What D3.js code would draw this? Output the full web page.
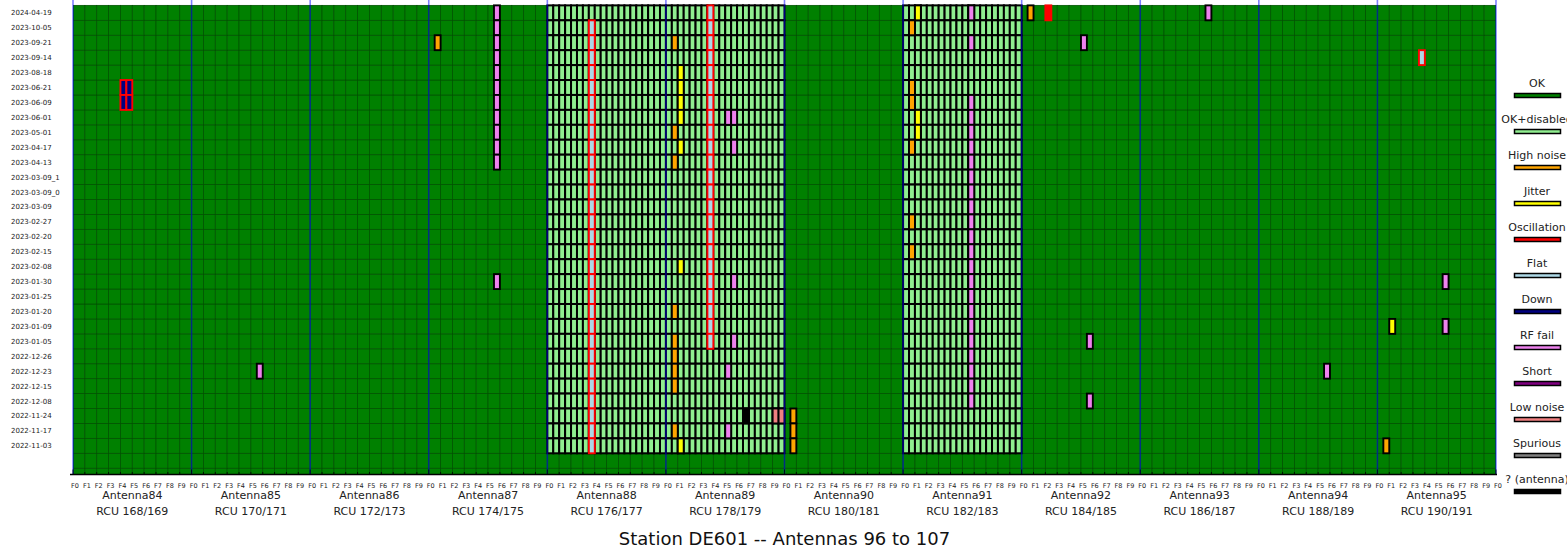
<!DOCTYPE html>
<html><head><meta charset="utf-8">
<script src="https://cdn.jsdelivr.net/npm/d3@7/dist/d3.min.js"></script>
<style>
html,body{margin:0;padding:0;background:#fff;}
svg{display:block;font-family:"DejaVu Sans",sans-serif;}
</style></head>
<body>
<svg id="chart" width="1567" height="550"></svg>
<script>
// ---------------- data ----------------
const dates = ["2024-04-19","2023-10-05","2023-09-21","2023-09-14","2023-08-18","2023-06-21","2023-06-09","2023-06-01","2023-05-01","2023-04-17","2023-04-13","2023-03-09_1","2023-03-09_0","2023-03-09","2023-02-27","2023-02-20","2023-02-15","2023-02-08","2023-01-30","2023-01-25","2023-01-20","2023-01-09","2023-01-05","2022-12-26","2022-12-23","2022-12-15","2022-12-08","2022-11-24","2022-11-17","2022-11-03"];
const antennas = [84,85,86,87,88,89,90,91,92,93,94,95];
const rcuLabels = ["168/169","170/171","172/173","174/175","176/177","178/179","180/181","182/183","184/185","186/187","188/189","190/191"];
const freqLabels = ["F0","F1","F2","F3","F4","F5","F6","F7","F8","F9"];
const statusNames = ["OK","OK+disabled","High noise","Jitter","Oscillation","Flat","Down","RF fail","Short","Low noise","Spurious","? (antenna)"];
const statusColors = ["#008000","#90ee90","#ffa500","#ffff00","#ff0000","#add8e6","#000080","#ee82ee","#800080","#f08080","#808080","#000000"];
const disabledAntennas = [88,89,91];
const flaggedStatuses = ["Oscillation","Flat","Down"];
// faults: [antenna, freq index, polarisation (0/1), status, dates]
const faults = [
  [84,4,0,"Down",["2023-06-21","2023-06-09"]],
  [84,4,1,"Down",["2023-06-21","2023-06-09"]],
  [85,5,1,"RF fail",["2022-12-23"]],
  [87,0,1,"High noise",["2023-09-21"]],
  [87,5,1,"RF fail",["2024-04-19","2023-10-05","2023-09-21","2023-09-14","2023-08-18","2023-06-21","2023-06-09","2023-06-01","2023-05-01","2023-04-17","2023-04-13","2023-01-30"]],
  [88,3,1,"Flat",["2023-10-05","2023-09-21","2023-09-14","2023-08-18","2023-06-21","2023-06-09","2023-06-01","2023-05-01","2023-04-17","2023-04-13","2023-03-09_1","2023-03-09_0","2023-03-09","2023-02-27","2023-02-20","2023-02-15","2023-02-08","2023-01-30","2023-01-25","2023-01-20","2023-01-09","2023-01-05","2022-12-26","2022-12-23","2022-12-15","2022-12-08","2022-11-24","2022-11-17","2022-11-03"]],
  [89,3,1,"Flat",["2024-04-19","2023-10-05","2023-09-21","2023-09-14","2023-08-18","2023-06-21","2023-06-09","2023-06-01","2023-05-01","2023-04-17","2023-04-13","2023-03-09_1","2023-03-09_0","2023-03-09","2023-02-27","2023-02-20","2023-02-15","2023-02-08","2023-01-30","2023-01-25","2023-01-20","2023-01-09","2023-01-05"]],
  [89,0,1,"High noise",["2023-09-21","2023-05-01","2023-04-13","2023-01-20","2023-01-05","2022-12-26","2022-12-23","2022-12-15","2022-11-17"]],
  [89,1,0,"Jitter",["2023-08-18","2023-06-21","2023-06-09","2023-06-01","2023-04-17","2023-02-08","2022-11-03"]],
  [89,5,0,"RF fail",["2023-06-01","2022-12-23","2022-11-17"]],
  [89,5,1,"RF fail",["2023-06-01","2023-04-17","2023-01-30","2023-01-05"]],
  [89,6,1,"? (antenna)",["2022-11-24"]],
  [89,9,0,"Low noise",["2022-11-24"]],
  [89,9,1,"Low noise",["2022-11-24"]],
  [90,0,1,"High noise",["2022-11-24","2022-11-17","2022-11-03"]],
  [91,1,0,"Jitter",["2024-04-19","2023-06-01","2023-05-01"]],
  [91,0,1,"High noise",["2023-10-05","2023-06-21","2023-06-09","2023-04-17","2023-02-27","2023-02-15"]],
  [91,5,1,"RF fail",["2024-04-19","2023-09-21","2023-06-09","2023-06-01","2023-05-01","2023-04-17","2023-04-13","2023-03-09_1","2023-03-09_0","2023-03-09","2023-02-27","2023-02-20","2023-02-15","2023-02-08","2023-01-30","2023-01-25","2023-01-20","2023-01-09","2023-01-05","2022-12-26","2022-12-23","2022-12-15","2022-12-08"]],
  [92,0,1,"High noise",["2024-04-19"]],
  [92,2,0,"Oscillation",["2024-04-19"]],
  [92,5,0,"RF fail",["2023-09-21"]],
  [92,5,1,"RF fail",["2023-01-05","2022-12-08"]],
  [93,5,1,"RF fail",["2024-04-19"]],
  [94,5,1,"RF fail",["2022-12-23"]],
  [95,3,1,"Flat",["2023-09-14"]],
  [95,5,1,"RF fail",["2023-01-30","2023-01-09"]],
  [95,1,0,"Jitter",["2023-01-09"]],
  [95,0,1,"High noise",["2022-11-03"]]
];
const title = "Station DE601 -- Antennas 96 to 107";

// ---------------- layout ----------------
const svg = d3.select("#chart");
const X0 = 73, X1 = 1496, YB = 474.5;
const nF = freqLabels.length, nCols = antennas.length * nF;
const x = d3.scaleLinear().domain([0, nCols]).range([X0, X1]);
const y = d3.scaleLinear().domain([-1.42, 30.36]).range([YB, 0]);
const rowV = d => dates.length - 1 - dates.indexOf(d);
const colOf = (ant, f) => antennas.indexOf(ant) * nF + f;
const color = s => statusColors[statusNames.indexOf(s)];

svg.append("defs").append("clipPath").attr("id","plotclip")
  .append("rect").attr("x",X0).attr("y",0).attr("width",X1-X0).attr("height",YB);
const plot = svg.append("g").attr("clip-path","url(#plotclip)");

// background OK cells (including padding rows)
const bgRows = d3.range(-2, dates.length);
const bgCells = [];
bgRows.forEach(v => d3.range(nCols).forEach(c => bgCells.push({v, c})));
plot.append("g").selectAll("rect").data(bgCells).join("rect")
  .attr("x", d => x(d.c)).attr("y", d => y(d.v + 1))
  .attr("width", x(1) - x(0)).attr("height", y(0) - y(1))
  .attr("fill", color("OK")).attr("stroke", "#005400").attr("stroke-width", 0.8);

// disabled antennas (per polarisation)
const disCells = [];
disabledAntennas.forEach(a => dates.forEach(d => d3.range(nF).forEach(f => [0,1].forEach(p =>
  disCells.push({c: colOf(a, f) + p * 0.5, v: rowV(d)})))));
plot.append("g").selectAll("rect").data(disCells).join("rect")
  .attr("x", d => x(d.c)).attr("y", d => y(d.v + 1))
  .attr("width", x(0.5) - x(0)).attr("height", y(0) - y(1))
  .attr("fill", color("OK+disabled")).attr("stroke", "#000").attr("stroke-width", 2);

// faults
const faultCells = [];
faults.forEach(([a, f, p, s, ds]) => ds.forEach(d =>
  faultCells.push({c: colOf(a, f) + p * 0.5, v: rowV(d), s})));
plot.append("g").selectAll("rect").data(faultCells).join("rect")
  .attr("x", d => x(d.c)).attr("y", d => y(d.v + 1))
  .attr("width", x(0.5) - x(0)).attr("height", y(0) - y(1))
  .attr("fill", d => color(d.s))
  .attr("stroke", d => flaggedStatuses.includes(d.s) ? "#ff0000" : "#000")
  .attr("stroke-width", 1.9);

// antenna separators
svg.append("g").selectAll("line").data(d3.range(0, nCols + 1, nF)).join("line")
  .attr("x1", d => x(d)).attr("x2", d => x(d)).attr("y1", 0).attr("y2", YB)
  .attr("stroke", "#0000ff").attr("stroke-opacity", 0.5).attr("stroke-width", 1.6);

// x axis
const ax = svg.append("g");
ax.append("line").attr("x1", 70).attr("x2", X1 + 1).attr("y1", YB).attr("y2", YB)
  .attr("stroke", "#000").attr("stroke-width", 1.5);
ax.selectAll("line.tk").data(d3.range(nCols + 1)).join("line").attr("class","tk")
  .attr("x1", d => x(d)).attr("x2", d => x(d))
  .attr("y1", YB).attr("y2", d => d % nF === 0 ? YB - 5 : YB - 2.5)
  .attr("stroke", "#000").attr("stroke-width", 0.8);
ax.selectAll("text.fl").data(d3.range(nCols + 1)).join("text").attr("class","fl")
  .attr("x", d => x(d) + 2).attr("y", 487.5)
  .attr("text-anchor","middle").attr("font-size", 6.5).attr("fill","#222")
  .text(d => freqLabels[d % nF]);
ax.selectAll("text.an").data(antennas).join("text").attr("class","an")
  .attr("x", (d,i) => x(i * nF + nF / 2)).attr("y", 499)
  .attr("text-anchor","middle").attr("font-size", 11).attr("fill","#222")
  .text(d => "Antenna" + d);
ax.selectAll("text.rc").data(rcuLabels).join("text").attr("class","rc")
  .attr("x", (d,i) => x(i * nF + nF / 2)).attr("y", 515)
  .attr("text-anchor","middle").attr("font-size", 11).attr("fill","#222")
  .text(d => "RCU " + d);

// y labels
svg.append("g").selectAll("text").data(dates).join("text")
  .attr("x", 11).attr("y", d => y(rowV(d) + 0.5) + 2.5)
  .attr("font-size", 7).attr("fill","#222").text(d => d);

// title
svg.append("text").attr("x", (X0 + X1) / 2).attr("y", 545)
  .attr("text-anchor","middle").attr("font-size", 18).attr("fill","#111").text(title);

// legend
const lg = svg.append("g").selectAll("g").data(statusNames).join("g")
  .attr("transform", (d,i) => `translate(1537,${83 + i * 36})`);
lg.append("text").attr("y", 4).attr("text-anchor","middle").attr("font-size", 11)
  .attr("fill","#222").text(d => d);
lg.append("rect").attr("x", -22.5).attr("y", 10.5).attr("width", 46).attr("height", 4)
  .attr("fill", d => color(d)).attr("stroke","#000").attr("stroke-width",1.5);
</script>
</body></html>
